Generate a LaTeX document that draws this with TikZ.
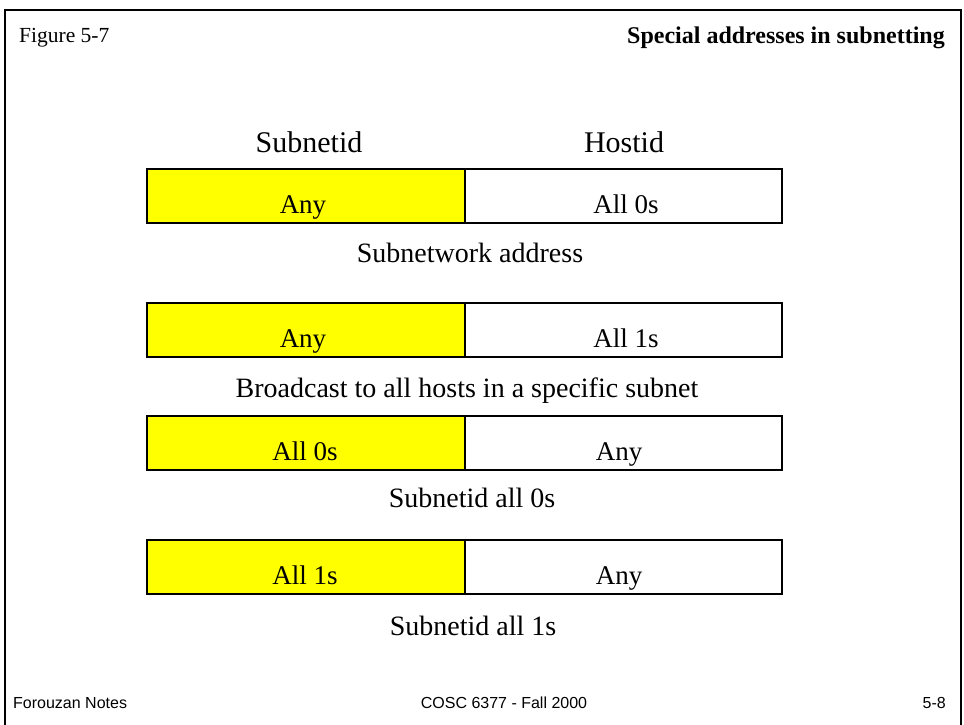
\documentclass[tikz,border=0pt]{standalone}
\usepackage{fontspec}
\setmainfont{Liberation Serif}
\newfontfamily\footfont{Liberation Sans}
\definecolor{boxyellow}{HTML}{FFFF00}
\tikzset{
  part/.style={draw=black, line width=1.8pt, minimum width=#1, minimum height=54pt, inner sep=0pt, anchor=north west},
  ylw/.style={fill=boxyellow},
  wht/.style={fill=white},
  lbl/.style={anchor=base, inner sep=0pt, font=\fontsize{27}{30}\selectfont},
  captxt/.style={anchor=base, inner sep=0pt, font=\fontsize{28}{31}\selectfont},
  headtxt/.style={anchor=base, inner sep=0pt, font=\fontsize{30}{33}\selectfont},
  foottxt/.style={anchor=base, inner sep=0pt, font=\footfont\fontsize{16}{18}\selectfont},
}
\begin{document}
\begin{tikzpicture}[x=1pt,y=-1pt]
\useasboundingbox (0,0) rectangle (964,724);
\fill[white] (0,0) rectangle (964,724);
% frame
\draw[line width=2.2pt] (5,740) -- (5,10) -- (961,10) -- (961,740);
% header
\node[anchor=base west, inner sep=0pt, font=\fontsize{21.5}{24}\selectfont] (fig) at (19,42) {Figure 5-7};
\node[anchor=base east, inner sep=0pt, font=\bfseries\fontsize{24}{26}\selectfont] (title) at (945,43) {Special addresses in subnetting};
% column heads
\node[headtxt] (hs) at (309,152) {Subnetid};
\node[headtxt] (hh) at (624,152) {Hostid};
% row 1
\node[part=318pt, ylw] (l1) at (146,168) {};
\node[part=317pt, wht] (r1) at (464,168) {};
\node[lbl] (l1t) at (303,213) {Any};
\node[lbl] (r1t) at (626,213) {All 0s};
\node[captxt] (c1) at (470,262) {Subnetwork address};
% row 2
\node[part=318pt, ylw] (l2) at (146,302) {};
\node[part=317pt, wht] (r2) at (464,302) {};
\node[lbl] (l2t) at (303,347) {Any};
\node[lbl] (r2t) at (626,347) {All 1s};
\node[captxt] (c2) at (467,397) {Broadcast to all hosts in a specific subnet};
% row 3
\node[part=318pt, ylw] (l3) at (146,415) {};
\node[part=317pt, wht] (r3) at (464,415) {};
\node[lbl] (l3t) at (305,460) {All 0s};
\node[lbl] (r3t) at (619,460) {Any};
\node[captxt] (c3) at (472,507) {Subnetid all 0s};
% row 4
\node[part=318pt, ylw] (l4) at (146,539) {};
\node[part=317pt, wht] (r4) at (464,539) {};
\node[lbl] (l4t) at (305,584) {All 1s};
\node[lbl] (r4t) at (619,584) {Any};
\node[captxt] (c4) at (473,635) {Subnetid all 1s};
% footer
\node[foottxt, anchor=base west] (f1) at (13,708) {Forouzan Notes};
\node[foottxt] (f2) at (504,708) {COSC 6377 - Fall 2000};
\node[foottxt, anchor=base east] (f3) at (946,708) {5-8};
\end{tikzpicture}
\end{document}
